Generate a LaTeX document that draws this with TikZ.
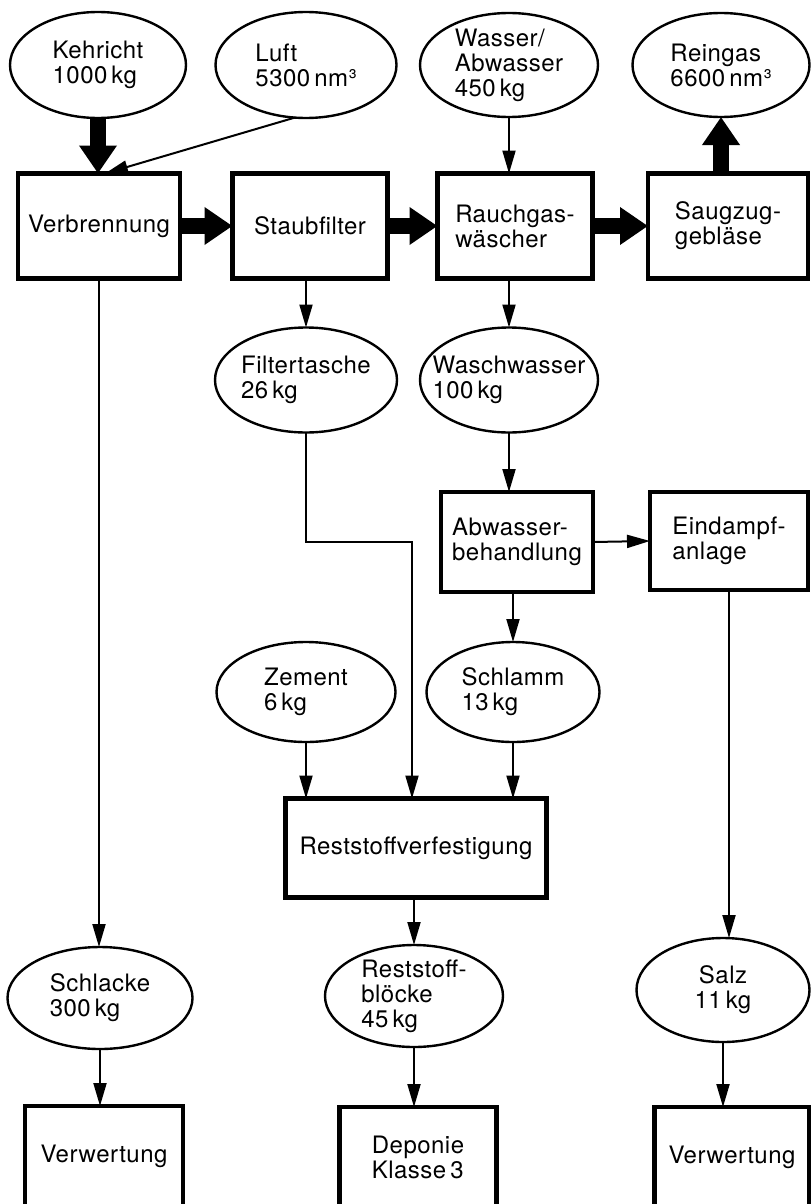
\documentclass[tikz,border=0pt]{standalone}
\usepackage{fontspec}
\setmainfont{TeX Gyre Heros}[LetterSpace=2]
\usetikzlibrary{shapes.geometric}
\usetikzlibrary{arrows.meta}
\usetikzlibrary{calc}
\tikzset{
   stoffShape/.style={draw=black, shape=ellipse, line width=1.2pt, inner sep=0mm, outer sep=0mm},
   stoffText/.style={align=left, inner sep=0mm, font=\fontsize{12}{12.5}\selectfont},
   anlage/.style={draw=black, line width=2.2pt, inner sep=0mm, outer sep=0mm, align=left, font=\fontsize{12}{12.5}\selectfont},
   linePlain/.style={draw=black, line width=1pt},
   lineWithArrow/.style={draw=black, line width=1pt, -{Triangle[length=11.5pt, width=6.5pt]}},
   lineFat/.style={draw=black, line width=8pt, -{Triangle[length=14pt, width=18pt]}},
}
% ellipse with its text on top: [text options]{name}{position}{width}{height}{text}
\newcommand{\stoff}[6][]{%
   \node[stoffShape, minimum width=#4, minimum height=#5] (#2) at (#3) {};
   \node[stoffText, #1] (#2Text) at (#2) {#6};
}

\begin{document}
\begin{tikzpicture}[x=0.5pt, y=-0.5pt]
   \useasboundingbox (0,0) rectangle (810,1204);
   %
   % inputs and the gas line
   %
   \stoff{kehricht}{98,65}{88pt}{53pt}{Kehricht\\1000\,kg}
   \stoff{luft}{306,65}{90.5pt}{53pt}{Luft\\5300\,nm³}
   \stoff{wasser}{509,65}{89pt}{52pt}{Wasser/\\Abwasser\\450\,kg}
   \stoff{reingas}{721,65}{88.5pt}{52pt}{Reingas\\6600\,nm³}
   %
   \node[anlage, minimum width=81pt, minimum height=52.5pt] (verbrennung) at (99,226) {Verbrennung};
   \node[anlage, minimum width=77.5pt, minimum height=52.5pt] (staubfilter) at (310,226) {Staubfilter};
   \node[anlage, minimum width=77.5pt, minimum height=52.5pt] (waescher) at (515,226) {Rauchgas-\\wäscher};
   \node[anlage, minimum width=80pt, minimum height=52.5pt] (saugzug) at (728,226) {Saugzug-\\gebläse};
   %
   \draw[lineFat] (kehricht.south) -- (kehricht.south |- verbrennung.north);
   \draw[lineWithArrow] (luft.258) -- ([xshift=3pt]verbrennung.north);
   \draw[lineWithArrow] (wasser.south) -- (wasser.south |- waescher.north);
   \draw[lineFat] (verbrennung.east) -- (staubfilter.west);
   \draw[lineFat] (staubfilter.east) -- (waescher.west);
   \draw[lineFat] (waescher.east) -- (saugzug.west);
   \draw[lineFat] (reingas.south |- saugzug.north) -- (reingas.south);
   %
   % residues and water treatment
   %
   \stoff{filtertasche}{306,380}{91pt}{52.5pt}{Filtertasche\\26\,kg}
   \stoff{waschwasser}{509,380}{89pt}{52.5pt}{Waschwasser\\100\,kg}
   \draw[lineWithArrow] (filtertasche.north |- staubfilter.south) -- (filtertasche.north);
   \draw[lineWithArrow] (waschwasser.north |- waescher.south) -- (waschwasser.north);
   %
   \node[anlage, minimum width=76pt, minimum height=50pt] (abwasser) at (517,542) {Abwasser-\\behandlung};
   \node[anlage, minimum width=79pt, minimum height=49pt] (eindampf) at (729,541) {Eindampf-\\anlage};
   \draw[lineWithArrow] (waschwasser.south) -- (waschwasser.south |- abwasser.north);
   \draw[lineWithArrow] (abwasser.east) -- (eindampf.west);
   %
   \stoff{zement}{306,692}{89.5pt}{50pt}{Zement\\6\,kg}
   \stoff{schlamm}{513,692}{86.5pt}{50pt}{Schlamm\\13\,kg}
   \draw[lineWithArrow] (schlamm.north |- abwasser.south) -- (schlamm.north);
   %
   \node[anlage, minimum width=130.5pt, minimum height=49.5pt] (verfestigung) at (416,848) {Reststoffverfestigung};
   \coordinate (filterBend) at (412,542);
   \draw[lineWithArrow] (filtertasche.south) |- (filterBend) -- (filterBend |- verfestigung.north);
   \draw[lineWithArrow] (zement.south) -- (zement.south |- verfestigung.north);
   \draw[lineWithArrow] (schlamm.south) -- (schlamm.south |- verfestigung.north);
   %
   % products
   %
   \stoff{schlacke}{100,998}{92.5pt}{51pt}{Schlacke\\300\,kg}
   \stoff{bloecke}{414,996}{89pt}{51pt}{Reststoff-\\blöcke\\45\,kg}
   \stoff[align=center]{salz}{723,990}{86.5pt}{52pt}{Salz\\11\,kg}
   \draw[lineWithArrow] (verbrennung.south) -- (verbrennung.south |- schlacke.north);
   \draw[lineWithArrow] (bloecke.north |- verfestigung.south) -- (bloecke.north);
   \draw[lineWithArrow] (eindampf.south) -- (eindampf.south |- salz.north);
   %
   \node[anlage, minimum width=79pt, minimum height=50pt] (verwertungSchlacke) at (104,1156) {Verwertung};
   \node[anlage, minimum width=78.5pt, minimum height=50pt] (deponie) at (418,1157) {Deponie\\Klasse\,3};
   \node[anlage, minimum width=77.5pt, minimum height=50pt] (verwertungSalz) at (732,1157) {Verwertung};
   \draw[lineWithArrow] (schlacke.south) -- (schlacke.south |- verwertungSchlacke.north);
   \draw[lineWithArrow] (bloecke.south) -- (bloecke.south |- deponie.north);
   \draw[lineWithArrow] (salz.south) -- (salz.south |- verwertungSalz.north);
\end{tikzpicture}
\end{document}
